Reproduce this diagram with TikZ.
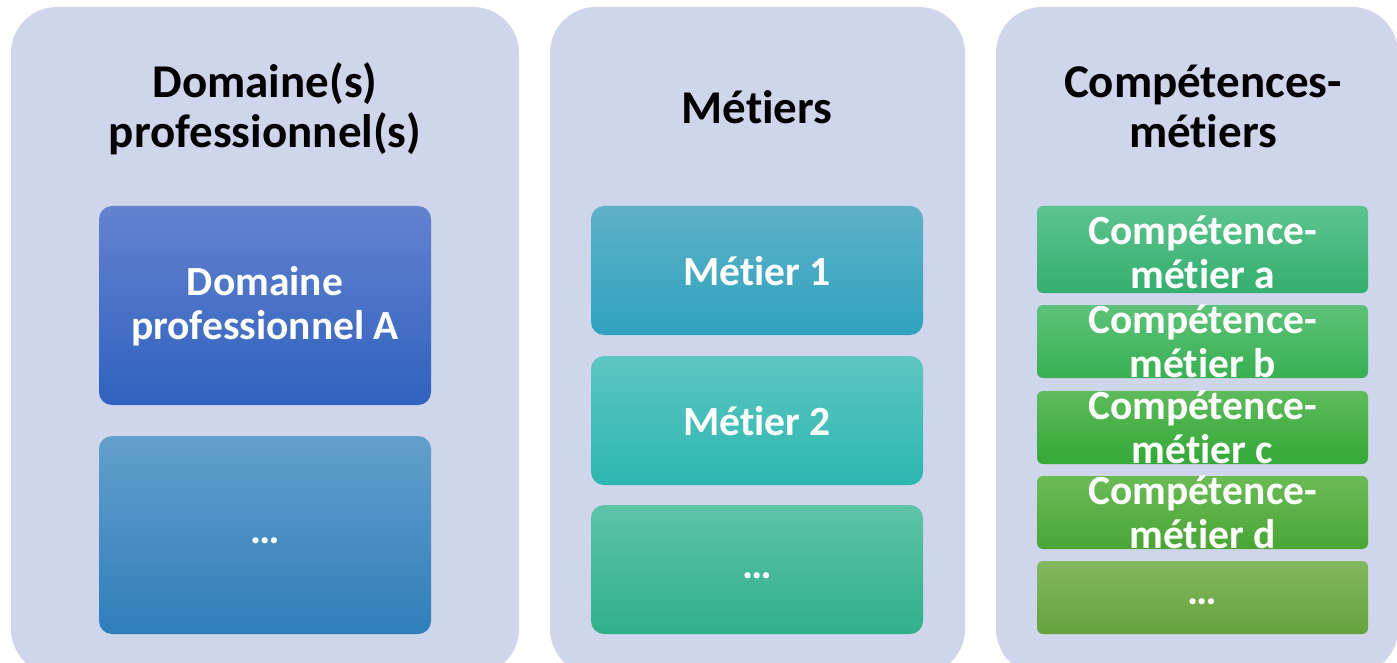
\documentclass[tikz,border=0pt]{standalone}
\usepackage{fontspec}
\setmainfont{Carlito}[RawFeature={-liga;-dlig}]
\definecolor{panelbg}{HTML}{CFD5EA}
\definecolor{daT}{HTML}{6382CF}\definecolor{daB}{HTML}{2F62BE}
\definecolor{ddT}{HTML}{639FCB}\definecolor{ddB}{HTML}{2E7EBB}
\definecolor{m1T}{HTML}{5FB1C8}\definecolor{m1B}{HTML}{2FA2BF}
\definecolor{m2T}{HTML}{5DC6C1}\definecolor{m2B}{HTML}{2DB6B0}
\definecolor{mdT}{HTML}{5EC4A6}\definecolor{mdB}{HTML}{2FB08A}
\definecolor{caT}{HTML}{5DC48F}\definecolor{caB}{HTML}{34AE6E}
\definecolor{cbT}{HTML}{5EC27A}\definecolor{cbB}{HTML}{38B052}
\definecolor{ccT}{HTML}{5DBB5B}\definecolor{ccB}{HTML}{34A838}
\definecolor{cdT}{HTML}{6BBB55}\definecolor{cdB}{HTML}{4AA535}
\definecolor{ceT}{HTML}{84B760}\definecolor{ceB}{HTML}{65A23B}
\tikzset{
  panel/.style={rectangle, rounded corners=46pt, fill=panelbg, draw=none, inner sep=0pt},
  bigbox/.style={rectangle, rounded corners=13pt, draw=none, inner sep=0pt, minimum width=332pt},
  smallbox/.style={rectangle, rounded corners=6pt, draw=none, inner sep=0pt, minimum width=331pt},
  title/.style={align=center, text=black, font=\fontsize{47}{50}\selectfont\bfseries, inner sep=0pt},
  lbl/.style={align=center, text=white, font=\fontsize{41.5}{44}\selectfont\bfseries, inner sep=0pt},
}
\begin{document}
\begin{tikzpicture}[x=1pt,y=-1pt]
\useasboundingbox (0,0) rectangle (1397,663);
\clip (0,0) rectangle (1397,663);
% panels
\node[panel, minimum width=508pt, minimum height=668pt] (p1) at (265,341) {};
\node[panel, minimum width=415pt, minimum height=668pt] (p2) at (757.5,341) {};
\node[panel, minimum width=402pt, minimum height=668pt] (p3) at (1197,341) {};
% titles
\node[title] (t1) at (265,109) {Domaine(s)\\professionnel(s)};
\node[title] (t2) at (757,107) {Métiers};
\node[title] (t3) at (1203,106) {Compétences-\\métiers};
% panel 1 boxes
\node[bigbox, minimum height=199pt, top color=daT, bottom color=daB] (da) at (265,305.5) {};
\node[lbl] (tda) at (265,306) {Domaine\\professionnel A};
\node[bigbox, minimum height=198pt, top color=ddT, bottom color=ddB] (dd) at (265,535) {};
\node[lbl] (tdd) at (265,541) {…};
% panel 2 boxes
\node[bigbox, minimum height=129pt, top color=m1T, bottom color=m1B] (m1) at (757,270.5) {};
\node[lbl] (tm1) at (757,271) {Métier 1};
\node[bigbox, minimum height=129pt, top color=m2T, bottom color=m2B] (m2) at (757,420.5) {};
\node[lbl] (tm2) at (757,421) {Métier 2};
\node[bigbox, minimum height=129pt, top color=mdT, bottom color=mdB] (md) at (757,569.5) {};
\node[lbl] (tmd) at (757,576) {…};
% panel 3 boxes
\node[smallbox, minimum height=87pt, top color=caT, bottom color=caB] (ca) at (1202.5,249.5) {};
\node[lbl] (tca) at (1202.5,252) {Compétence-\\métier a};
\node[smallbox, minimum height=73pt, top color=cbT, bottom color=cbB] (cb) at (1202.5,341.5) {};
\node[lbl] (tcb) at (1202.5,341) {Compétence-\\métier b};
\node[smallbox, minimum height=73pt, top color=ccT, bottom color=ccB] (cc) at (1202.5,427.5) {};
\node[lbl] (tcc) at (1202.5,427) {Compétence-\\métier c};
\node[smallbox, minimum height=73pt, top color=cdT, bottom color=cdB] (cd) at (1202.5,512.5) {};
\node[lbl] (tcd) at (1202.5,512) {Compétence-\\métier d};
\node[smallbox, minimum height=73pt, top color=ceT, bottom color=ceB] (ce) at (1202.5,597.5) {};
\node[lbl] (tce) at (1202.5,602) {…};
\end{tikzpicture}
\end{document}
